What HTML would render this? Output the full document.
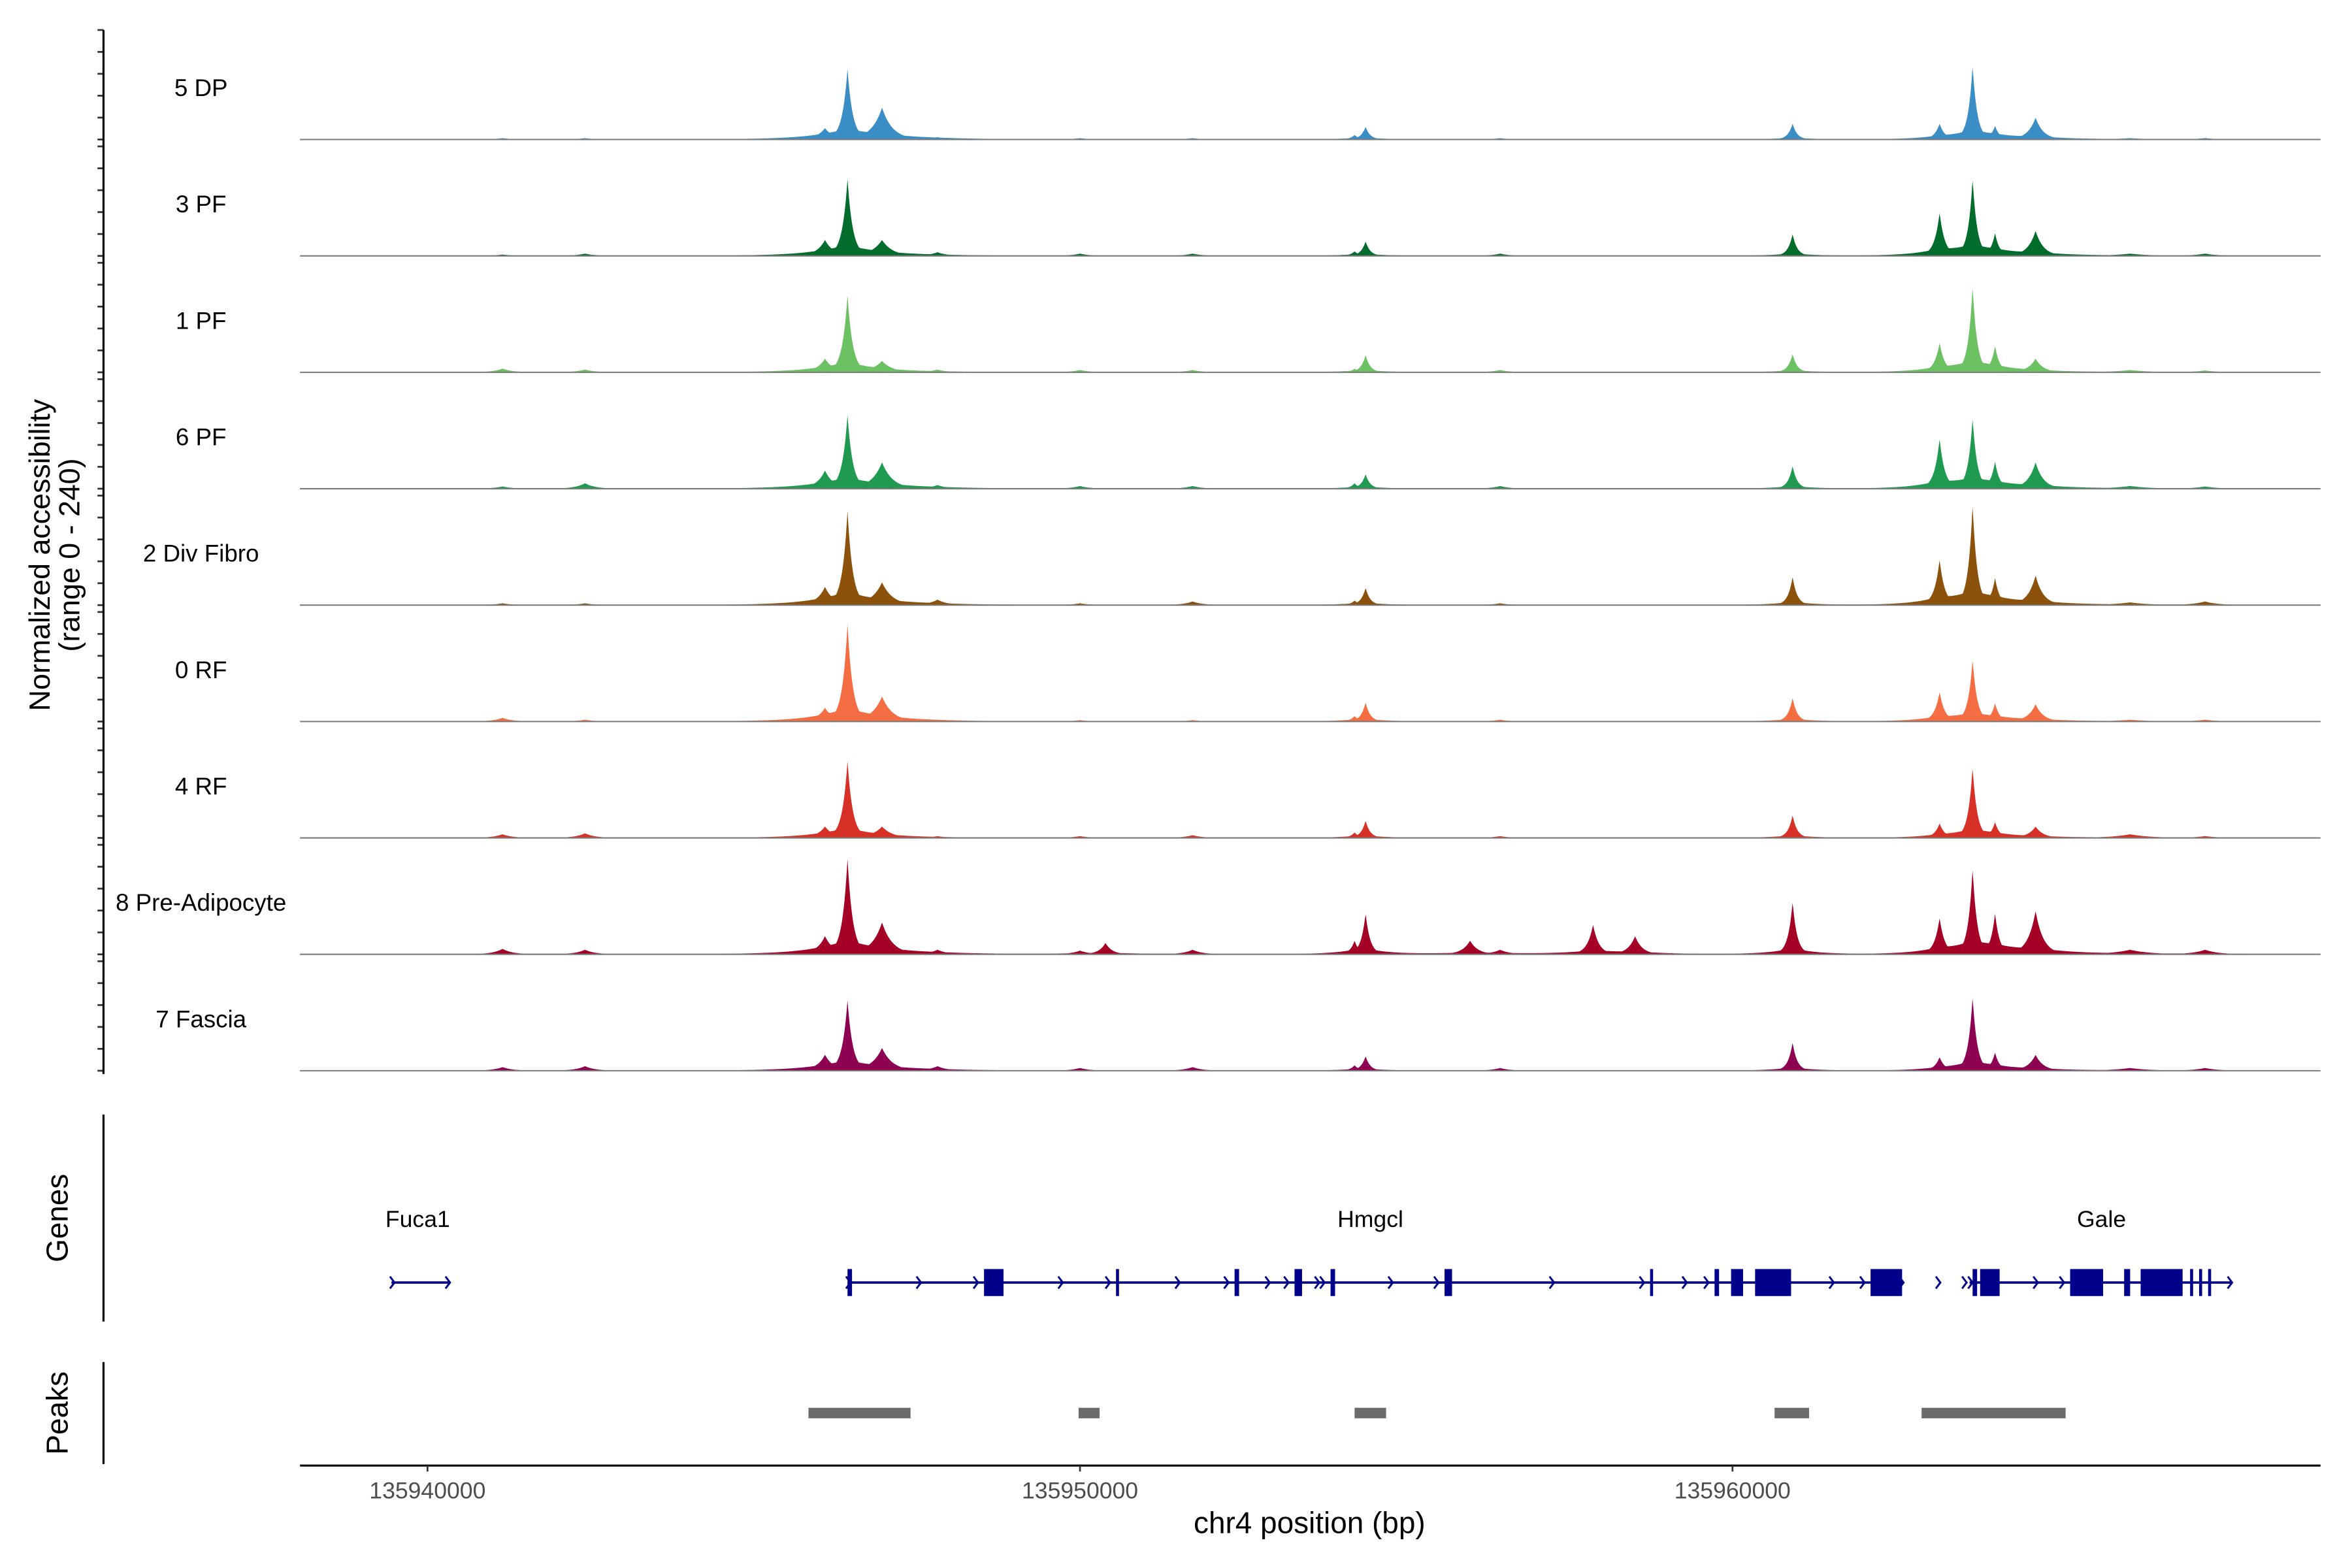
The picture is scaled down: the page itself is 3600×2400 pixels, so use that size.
<!DOCTYPE html>
<html><head><meta charset="utf-8"><style>
html,body{margin:0;padding:0;background:#fff;}
svg{display:block;font-family:"Liberation Sans",Arial,sans-serif;}
</style></head><body>
<svg id="chart" xmlns="http://www.w3.org/2000/svg" width="3600" height="2400" viewBox="0 0 1568 1045.3" preserveAspectRatio="none">
<rect x="0" y="0" width="1568" height="1046" fill="#fff"/>
<g id="tracks"></g>
<g id="genes"></g>
<g id="peaks"></g>
<g id="axes"></g>
<text transform="translate(35,370) rotate(-90)" text-anchor="middle" font-size="19.5" fill="#000"><tspan x="0" dy="-2">Normalized accessibility</tspan><tspan x="0" dy="20">(range 0 - 240)</tspan></text>
<text transform="translate(45,812) rotate(-90)" text-anchor="middle" font-size="20" fill="#000">Genes</text>
<text transform="translate(45,942) rotate(-90)" text-anchor="middle" font-size="20" fill="#000">Peaks</text>
<text x="873" y="1022" text-anchor="middle" font-size="20" fill="#000">chr4 position (bp)</text>
</svg>
<script>
const trackNames = ["5 DP","3 PF","1 PF","6 PF","2 Div Fibro","0 RF","4 RF","8 Pre-Adipocyte","7 Fascia"];
const trackColors = ["#3a8dc5","#006d2c","#6cc163","#1f9a50","#8c510a","#f46d43","#d73027","#a50026","#8e0152"];
const sitePos = [135946092,135946437,135946966,135954208,135954377,135960921,135963174,135963680,135964024,135964645,135950391,135955978,135957863,135958507,135941150,135942414,135947817,135950000,135951725,135956438,135966094,135967243];
const siteWidth = [130,80,160,70,70,70,80,70,70,120,100,120,90,110,150,150,150,150,150,150,300,200];
const dp5 = [25,155,70,10,28,35,35,162,30,48,0,0,0,0,3,3,5,3,3,3,3,3];
const pf3 = [35,169,35,10,32,48,95,169,50,55,0,0,0,0,3,5,8,5,5,5,5,5];
const pf1 = [30,169,25,8,38,40,65,188,58,30,0,0,0,0,8,6,6,5,5,5,5,4];
const pf6 = [40,162,58,12,32,50,110,155,60,58,0,0,0,0,5,12,8,6,6,6,6,5];
const divFibro2 = [40,207,50,10,38,62,100,220,60,65,0,0,0,0,4,4,12,4,8,4,6,8];
const rf0 = [30,214,55,12,42,52,65,136,40,38,0,0,0,0,8,4,4,3,3,4,4,4];
const rf4 = [25,169,25,12,38,50,32,155,35,25,0,0,0,0,8,10,4,4,6,4,8,4];
const preAdipo8 = [40,210,70,30,90,115,80,188,90,95,25,30,65,40,12,10,10,8,10,10,10,10];
const fascia7 = [35,155,50,12,32,62,30,162,40,35,0,0,0,0,8,10,10,6,8,6,6,6];
const trackValues = [dp5,pf3,pf1,pf6,divFibro2,rf0,rf4,preAdipo8,fascia7];
const xTicks = [135940000,135950000,135960000];
const xTickLabels = ["135940000","135950000","135960000"];
const geneNames = ["Fuca1","Hmgcl","Gale"];
const geneStart = [135939448,135946437,135963634];
const geneEnd = [135940322,135962599,135967634];
const geneLabelPos = [135939850,135954450,135965655];
const exonStart = [135946437,135948529,135950552,135952369,135953288,135953840,135955587,135958737,135959725,135959978,135960346,135962116,135963680,135963795,135965174,135966002,135966255,135967013,135967151,135967289];
const exonEnd = [135946506,135948828,135950598,135952438,135953403,135953909,135955702,135958783,135959794,135960162,135960898,135962599,135963749,135964094,135965680,135966094,135966898,135967059,135967197,135967335];
const peakStart = [135945839,135949978,135954208,135960645,135962898];
const peakEnd = [135947403,135950300,135954691,135961174,135965105];
const yMax = 240;

const NS = "http://www.w3.org/2000/svg";
const X0 = 200, X1 = 1547;
function xs(bp){ return 285 + (bp - 135940000) * 0.0435; }
function bpOf(x){ return 135940000 + (x - 285) / 0.0435; }
const trackH = 73;
function baseY(i){ return 93 + i * 77.6; }
function ys(i, v){ return baseY(i) - v / yMax * trackH; }
function mk(tag, attrs, parent){ const e = document.createElementNS(NS, tag); for (const k in attrs) e.setAttribute(k, attrs[k]); parent.appendChild(e); return e; }

const gT = document.getElementById("tracks");
const gA = document.getElementById("axes");
trackNames.forEach((name, i) => {
  const vals = trackValues[i];
  let d = "M" + X0 + "," + baseY(i);
  for (let x = X0; x <= X1; x += 0.5) {
    const bp = bpOf(x);
    let v = 0, base = 0;
    for (let s = 0; s < sitePos.length; s++) {
      const dd = Math.abs(bp - sitePos[s]);
      const c = vals[s] * Math.exp(-dd / siteWidth[s]);
      if (c > v) v = c;
      base += vals[s] * 0.12 * Math.exp(-dd / (siteWidth[s] * 5));
    }
    v = Math.max(v, base);
    if (v > yMax) v = yMax;
    d += "L" + x.toFixed(1) + "," + ys(i, v).toFixed(2);
  }
  d += "L" + X1 + "," + baseY(i) + "Z";
  const p = mk("path", {d: d, fill: trackColors[i]}, gT);
  
  
  const bl = mk("line", {x1: X0, x2: X1, y1: baseY(i), y2: baseY(i), stroke: "#7a7a7a", "stroke-width": 0.9}, gT);
  
  
  const t = mk("text", {x: 134, y: baseY(i) - 29, "text-anchor": "middle", "font-size": 16, fill: "#000"}, gT);
  t.textContent = name;
  
  
  for (let k = 0; k <= 5; k++) {
    const y = ys(i, k * 48);
    const tk = mk("line", {x1: 65, x2: 69, y1: y, y2: y, stroke: "#333", "stroke-width": 1.2}, gA);
    
    
  }
});
let ax = mk("line", {x1: 69, x2: 69, y1: 20, y2: 716, stroke: "#000", "stroke-width": 1.4}, gA);


ax = mk("line", {x1: 69, x2: 69, y1: 743, y2: 881, stroke: "#000", "stroke-width": 1.4}, gA);


ax = mk("line", {x1: 69, x2: 69, y1: 908, y2: 976, stroke: "#000", "stroke-width": 1.4}, gA);


ax = mk("line", {x1: X0, x2: X1, y1: 977, y2: 977, stroke: "#000", "stroke-width": 1.4}, gA);


xTicks.forEach((b, k) => {
  const x = xs(b);
  const tk = mk("line", {x1: x, x2: x, y1: 977, y2: 981, stroke: "#333", "stroke-width": 1.2}, gA);
  
  
  const tl = mk("text", {x: x, y: 999, "text-anchor": "middle", "font-size": 15.5, fill: "#4d4d4d"}, gA);
  tl.textContent = xTickLabels[k];
  
  
});

const gG = document.getElementById("genes");
const GY = 855, GC = "#00008b";
function chevron(x){
  const c = mk("path", {d: "M" + (x - 3) + "," + (GY - 4) + "L" + x + "," + GY + "L" + (x - 3) + "," + (GY + 4), fill: "none", stroke: GC, "stroke-width": 1.3}, gG);
  
  
}
geneNames.forEach((g, k) => {
  const l = mk("line", {x1: xs(geneStart[k]), x2: xs(geneEnd[k]), y1: GY, y2: GY, stroke: GC, "stroke-width": 1.6}, gG);
  
  
  const t = mk("text", {x: xs(geneLabelPos[k]), y: 818, "text-anchor": "middle", "font-size": 15.5, fill: "#000"}, gG);
  t.textContent = g;
  
  
  chevron(xs(geneEnd[k]) + 1);
  chevron(xs(geneStart[k]) + 2);
});
exonStart.forEach((s, k) => {
  const x = xs(s), w = Math.max(xs(exonEnd[k]) - x, 2);
  const r = mk("rect", {x: x, y: 846, width: w, height: 18, fill: GC}, gG);
  
  
});
for (let k = 0; k < exonStart.length - 1; k++) {
  const a = xs(exonEnd[k]), b = xs(exonStart[k + 1]);
  if (b - a > 18) chevron((a + b) / 2 + 2);
  if (b - a > 18) chevron(b - 4);
}
const gP = document.getElementById("peaks");
peakStart.forEach((s, k) => {
  const r = mk("rect", {x: xs(s), y: 938.5, width: xs(peakEnd[k]) - xs(s), height: 7, fill: "#6b6b6b"}, gP);
  
  
});
</script>
</body></html>
